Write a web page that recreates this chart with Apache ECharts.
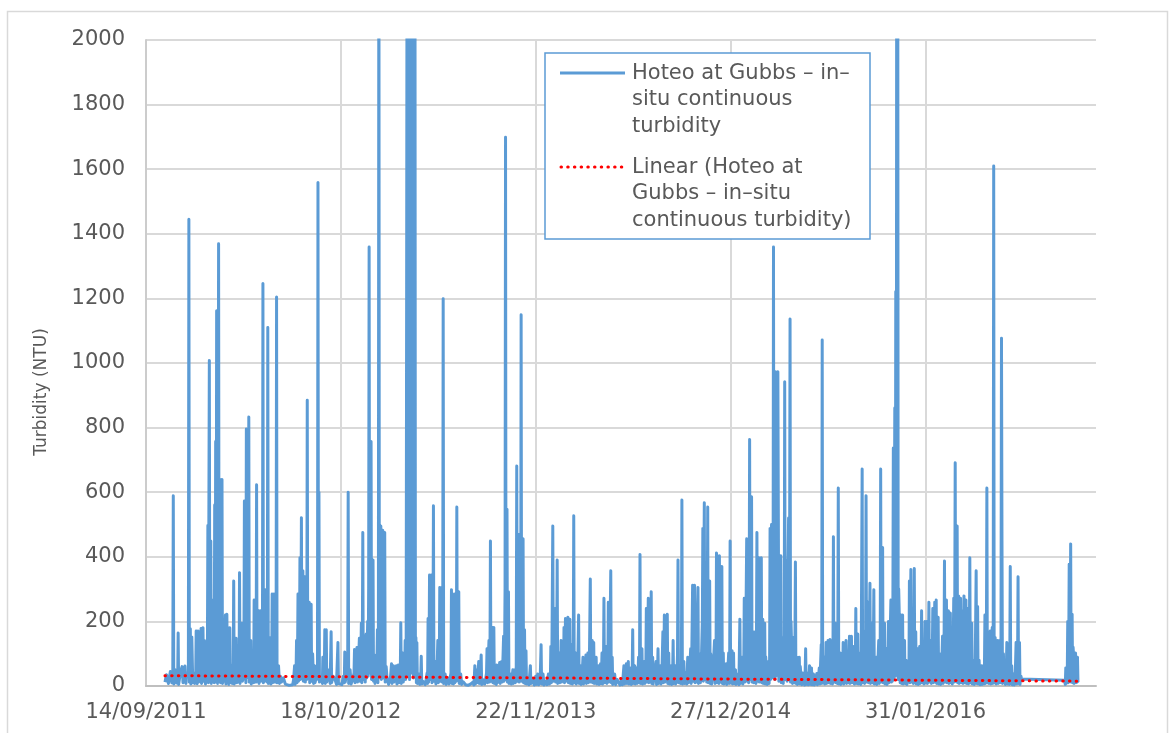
<!DOCTYPE html>
<html>
<head>
<meta charset="utf-8">
<title>Hoteo at Gubbs turbidity</title>
<script src="https://cdn.jsdelivr.net/npm/echarts@6/dist/echarts.min.js"></script>
<style>
  html, body { margin: 0; padding: 0; background: #fff; }
  #chart { width: 1171px; height: 733px; }
</style>
</head>
<body>
<div id="chart"></div>
<script>
// x values are Excel date serials (40800 = 14/09/2011), y values are NTU read off the chart
// values above 2000 are spikes that run off the top of the axis
const turb2011 = [
  [40839, 12], [40842, 35], [40846, 8], [40850, 45], [40853, 10], [40855, 30], [40856, 589], [40857, 6],
  [40860, 50], [40863, 9], [40865, 20], [40866, 164], [40867, 5], [40871, 45], [40874, 60], [40876, 10],
  [40877, 25], [40880, 62], [40882, 8], [40883, 30], [40887, 40], [40888, 1445], [40889, 12], [40891, 177],
  [40892, 6], [40894, 152], [40896, 10], [40898, 40], [40900, 8], [40902, 25], [40903, 170], [40905, 7],
  [40907, 170], [40908, 12]
]
const turb2012 = [
  [40911, 30], [40913, 178], [40914, 8], [40917, 180], [40918, 15], [40920, 141], [40922, 6], [40924, 40],
  [40926, 80], [40927, 497], [40928, 10], [40930, 1008], [40931, 20], [40933, 449], [40934, 8], [40936, 266],
  [40937, 15], [40939, 150], [40940, 10], [40941, 560], [40942, 30], [40943, 757], [40944, 12], [40945, 1162],
  [40946, 40], [40947, 8], [40948, 420], [40949, 1369], [40950, 25], [40952, 639], [40953, 10], [40954, 180],
  [40956, 639], [40957, 8], [40959, 207], [40960, 15], [40961, 90], [40963, 220], [40964, 6], [40966, 222],
  [40967, 12], [40969, 180], [40970, 5], [40972, 180], [40973, 10], [40975, 65], [40977, 8], [40979, 40],
  [40980, 325], [40981, 6], [40983, 60], [40985, 148], [40986, 10], [40988, 50], [40990, 60], [40991, 12],
  [40992, 351], [40993, 8], [40995, 90], [40997, 194], [40998, 15], [41000, 60], [41001, 100], [41002, 573],
  [41003, 20], [41004, 200], [41005, 10], [41006, 796], [41007, 25], [41009, 120], [41010, 300], [41011, 833],
  [41012, 12], [41014, 40], [41015, 141], [41016, 6], [41018, 60], [41020, 90], [41021, 10], [41022, 266],
  [41023, 30], [41025, 150], [41026, 12], [41027, 623], [41028, 20], [41030, 180], [41031, 233], [41032, 8],
  [41034, 200], [41035, 233], [41036, 15], [41038, 120], [41039, 20], [41040, 1246], [41041, 10], [41043, 200],
  [41044, 15], [41045, 298], [41046, 20], [41048, 240], [41049, 12], [41050, 1110], [41051, 8], [41053, 150],
  [41055, 96], [41056, 6], [41058, 60], [41059, 285], [41060, 10], [41062, 100], [41063, 285], [41064, 12],
  [41066, 80], [41067, 20], [41068, 1204], [41069, 10], [41071, 40], [41072, 63], [41074, 8], [41076, 30],
  [41078, 12], [41082, 25], [41086, 6], [41090, 3], [41094, 2], [41098, 8], [41101, 4], [41103, 20],
  [41105, 63], [41106, 5], [41108, 40], [41109, 141], [41110, 10], [41111, 80], [41112, 285], [41113, 15],
  [41115, 120], [41116, 397], [41117, 20], [41118, 200], [41119, 521], [41120, 30], [41121, 250], [41122, 357],
  [41123, 15], [41125, 300], [41126, 338], [41127, 12], [41129, 150], [41130, 20], [41131, 885], [41132, 25],
  [41134, 200], [41135, 259], [41136, 10], [41138, 200], [41139, 253], [41140, 15], [41142, 100], [41143, 102],
  [41144, 8], [41146, 63], [41147, 10], [41150, 30], [41152, 60], [41153, 1559], [41154, 20], [41155, 600],
  [41156, 12], [41160, 30], [41162, 8], [41163, 89], [41164, 10], [41166, 40], [41167, 174], [41168, 8],
  [41170, 174], [41171, 12], [41174, 30], [41176, 50], [41178, 8], [41180, 168], [41181, 10], [41184, 30],
  [41188, 20], [41191, 5], [41194, 135], [41195, 8], [41198, 10], [41202, 4], [41205, 30], [41207, 10],
  [41208, 105], [41209, 12], [41212, 40], [41214, 60], [41215, 600], [41216, 8], [41219, 50], [41221, 6],
  [41224, 20], [41227, 40], [41228, 113], [41229, 10], [41231, 60], [41233, 119], [41234, 12], [41236, 70],
  [41238, 148], [41239, 15], [41241, 80], [41242, 194], [41243, 10], [41244, 100], [41245, 475], [41246, 20],
  [41248, 140], [41249, 154], [41250, 12], [41251, 120], [41252, 161], [41253, 25], [41255, 200], [41256, 30],
  [41257, 300], [41258, 1359], [41259, 40], [41260, 400], [41262, 757], [41263, 20], [41265, 200], [41266, 390],
  [41267, 15], [41269, 96], [41270, 8], [41272, 40]
]
const turb2013 = [
  [41274, 60], [41275, 174], [41276, 10], [41277, 90], [41278, 2600], [41279, 30], [41280, 300], [41282, 495],
  [41283, 20], [41284, 200], [41286, 482], [41287, 25], [41289, 250], [41290, 475], [41291, 12], [41293, 60],
  [41295, 20], [41298, 5], [41302, 30], [41304, 69], [41305, 8], [41308, 63], [41309, 12], [41311, 30],
  [41314, 63], [41315, 6], [41318, 65], [41319, 10], [41321, 30], [41322, 40], [41323, 196], [41324, 8],
  [41326, 60], [41327, 102], [41328, 12], [41331, 40], [41332, 141], [41333, 20], [41334, 80], [41335, 1234],
  [41336, 2600], [41337, 30], [41338, 2600], [41339, 900], [41340, 2600], [41341, 20], [41342, 2600], [41343, 1400],
  [41344, 2600], [41345, 40], [41346, 2600], [41347, 700], [41348, 2600], [41349, 25], [41350, 2600], [41351, 1100],
  [41352, 2600], [41353, 30], [41354, 150], [41355, 10], [41356, 135], [41357, 8], [41360, 37], [41362, 5],
  [41364, 30], [41365, 92], [41366, 6], [41368, 15], [41370, 20], [41373, 4], [41375, 20], [41377, 40],
  [41378, 8], [41379, 209], [41380, 12], [41381, 100], [41382, 344], [41383, 20], [41385, 150], [41386, 344],
  [41387, 10], [41389, 100], [41390, 558], [41391, 15], [41393, 50], [41394, 76], [41395, 6], [41397, 30],
  [41399, 141], [41400, 10], [41402, 60], [41403, 305], [41404, 15], [41406, 150], [41407, 305], [41408, 12],
  [41409, 100], [41410, 1199], [41411, 8], [41413, 30], [41414, 37], [41416, 5], [41420, 25], [41422, 6],
  [41424, 12], [41426, 40], [41427, 298], [41428, 8], [41430, 50], [41431, 6], [41432, 60], [41433, 285],
  [41434, 10], [41436, 100], [41437, 15], [41438, 554], [41439, 20], [41441, 200], [41442, 292], [41443, 8],
  [41446, 37], [41448, 5], [41451, 13], [41456, 4], [41461, 2], [41466, 6], [41471, 12], [41473, 3],
  [41474, 30], [41475, 63], [41476, 6], [41478, 50], [41479, 10], [41481, 30], [41483, 76], [41484, 8],
  [41486, 30], [41488, 96], [41489, 5], [41491, 20], [41493, 25], [41495, 6], [41497, 20], [41499, 40],
  [41500, 115], [41501, 10], [41502, 60], [41504, 141], [41505, 12], [41506, 70], [41507, 449], [41508, 15],
  [41510, 100], [41511, 181], [41512, 10], [41513, 110], [41514, 181], [41515, 8], [41518, 25], [41519, 5],
  [41520, 65], [41521, 10], [41524, 40], [41526, 73], [41527, 8], [41529, 50], [41530, 76], [41531, 12],
  [41533, 100], [41534, 154], [41535, 15], [41536, 100], [41537, 300], [41538, 1699], [41539, 20], [41540, 400],
  [41541, 547], [41542, 12], [41543, 200], [41544, 292], [41545, 8], [41548, 37], [41550, 6], [41553, 50],
  [41554, 8], [41556, 30], [41557, 50], [41558, 10], [41560, 60], [41561, 681], [41562, 15], [41564, 200],
  [41565, 469], [41566, 12], [41568, 150], [41569, 20], [41570, 1149], [41571, 15], [41573, 200], [41574, 456],
  [41575, 10], [41576, 100], [41577, 174], [41578, 8], [41579, 60], [41580, 109], [41581, 6], [41584, 20],
  [41586, 4], [41589, 63], [41590, 8], [41592, 25], [41594, 20], [41597, 3], [41600, 30], [41602, 5],
  [41604, 37], [41606, 4], [41609, 15], [41611, 128], [41612, 6], [41615, 37], [41617, 3], [41620, 15],
  [41623, 4], [41626, 37], [41628, 6], [41630, 20], [41631, 122], [41632, 10], [41633, 60], [41635, 495],
  [41636, 15], [41638, 150]
]
const turb2014 = [
  [41640, 240], [41641, 12], [41643, 100], [41644, 390], [41645, 8], [41647, 80], [41648, 102], [41649, 10],
  [41651, 50], [41652, 141], [41653, 12], [41655, 70], [41657, 20], [41658, 181], [41659, 10], [41660, 100],
  [41661, 209], [41662, 15], [41664, 120], [41666, 213], [41667, 10], [41669, 110], [41670, 207], [41671, 8],
  [41673, 80], [41674, 128], [41675, 6], [41677, 60], [41678, 527], [41679, 10], [41681, 50], [41682, 102],
  [41683, 6], [41686, 40], [41688, 220], [41689, 8], [41691, 50], [41692, 63], [41693, 5], [41695, 30],
  [41697, 89], [41698, 6], [41701, 30], [41703, 96], [41704, 8], [41706, 40], [41707, 102], [41708, 10],
  [41710, 60], [41712, 331], [41713, 12], [41715, 80], [41716, 141], [41717, 10], [41718, 90], [41719, 135],
  [41720, 8], [41722, 50], [41724, 89], [41725, 6], [41727, 40], [41729, 63], [41730, 5], [41732, 30],
  [41733, 69], [41734, 8], [41735, 40], [41736, 102], [41737, 6], [41739, 50], [41740, 272], [41741, 10],
  [41743, 60], [41745, 122], [41746, 8], [41748, 50], [41749, 259], [41750, 12], [41752, 100], [41754, 357],
  [41755, 10], [41756, 60], [41757, 89], [41758, 5], [41760, 30], [41762, 37], [41764, 4], [41767, 20],
  [41770, 25], [41773, 3], [41776, 20], [41778, 4], [41781, 63], [41782, 6], [41784, 30], [41786, 69],
  [41787, 8], [41789, 40], [41790, 76], [41791, 6], [41793, 40], [41795, 56], [41796, 5], [41798, 40],
  [41799, 174], [41800, 8], [41801, 40], [41803, 63], [41804, 6], [41806, 30], [41807, 56], [41808, 8],
  [41810, 40], [41811, 89], [41812, 10], [41813, 60], [41814, 407], [41815, 8], [41817, 60], [41818, 115],
  [41819, 6], [41821, 50], [41823, 76], [41824, 8], [41826, 40], [41827, 240], [41828, 12], [41830, 150],
  [41831, 272], [41832, 10], [41835, 120], [41836, 20], [41837, 292], [41838, 8], [41839, 60], [41840, 89],
  [41841, 6], [41844, 40], [41847, 76], [41848, 5], [41850, 40], [41851, 115], [41852, 8], [41854, 50],
  [41856, 63], [41857, 6], [41859, 40], [41861, 168], [41862, 10], [41863, 80], [41864, 220], [41865, 12],
  [41868, 100], [41870, 222], [41871, 8], [41872, 80], [41873, 102], [41874, 6], [41876, 40], [41878, 63],
  [41879, 5], [41881, 40], [41882, 141], [41883, 8], [41885, 50], [41886, 63], [41887, 6], [41890, 40],
  [41891, 100], [41892, 390], [41893, 10], [41895, 60], [41896, 63], [41897, 8], [41899, 50], [41900, 576],
  [41901, 6], [41903, 50], [41904, 76], [41905, 8], [41908, 40], [41910, 6], [41912, 89], [41913, 10],
  [41916, 50], [41918, 115], [41919, 8], [41920, 60], [41922, 312], [41923, 15], [41925, 200], [41926, 312],
  [41927, 10], [41928, 150], [41929, 194], [41930, 12], [41931, 150], [41933, 305], [41934, 8], [41936, 100],
  [41937, 102], [41938, 10], [41940, 80], [41942, 200], [41943, 488], [41944, 15], [41945, 300], [41946, 567],
  [41947, 20], [41949, 250], [41950, 325], [41951, 12], [41952, 200], [41953, 554], [41954, 10], [41956, 150],
  [41957, 325], [41958, 8], [41959, 100], [41960, 89], [41961, 6], [41964, 50], [41967, 141], [41968, 8],
  [41970, 60], [41971, 412], [41972, 10], [41974, 100], [41975, 141], [41976, 8], [41977, 403], [41978, 12],
  [41980, 100], [41982, 370], [41983, 8], [41984, 80], [41985, 102], [41986, 6], [41989, 50], [41991, 69],
  [41992, 5], [41994, 40], [41996, 102], [41997, 8], [41998, 60], [41999, 449], [42000, 10], [42002, 60],
  [42003, 109], [42004, 6]
]
const turb2015 = [
  [42006, 102], [42007, 8], [42008, 40], [42010, 50], [42011, 5], [42013, 25], [42015, 37], [42017, 4],
  [42019, 207], [42020, 8], [42022, 40], [42024, 89], [42025, 6], [42027, 50], [42028, 272], [42029, 12],
  [42031, 120], [42033, 456], [42034, 15], [42035, 200], [42036, 285], [42037, 10], [42038, 150], [42039, 763],
  [42040, 20], [42042, 250], [42043, 586], [42044, 12], [42045, 150], [42046, 168], [42047, 10], [42049, 100],
  [42051, 168], [42052, 8], [42053, 120], [42054, 475], [42055, 15], [42057, 200], [42058, 397], [42059, 12],
  [42061, 250], [42063, 397], [42064, 10], [42065, 150], [42066, 207], [42067, 8], [42068, 120], [42070, 194],
  [42071, 6], [42072, 90], [42074, 89], [42075, 5], [42077, 60], [42078, 76], [42079, 8], [42080, 60],
  [42081, 488], [42082, 20], [42083, 400], [42084, 500], [42085, 25], [42086, 450], [42087, 30], [42088, 1359],
  [42089, 40], [42090, 500], [42091, 20], [42092, 973], [42093, 30], [42094, 500], [42096, 40], [42097, 973],
  [42098, 508], [42099, 15], [42100, 300], [42102, 30], [42103, 403], [42104, 10], [42105, 150], [42107, 141],
  [42108, 8], [42109, 100], [42110, 50], [42111, 942], [42112, 20], [42113, 300], [42114, 40], [42115, 390],
  [42116, 15], [42117, 250], [42119, 520], [42120, 20], [42121, 300], [42122, 1136], [42123, 12], [42124, 200],
  [42126, 194], [42127, 8], [42128, 150], [42130, 141], [42131, 10], [42132, 120], [42133, 384], [42134, 8],
  [42135, 80], [42136, 89], [42137, 5], [42139, 60], [42141, 89], [42142, 6], [42143, 60], [42145, 63],
  [42146, 4], [42148, 40], [42150, 30], [42152, 3], [42153, 40], [42154, 115], [42155, 5], [42157, 40],
  [42158, 37], [42159, 4], [42161, 25], [42162, 63], [42163, 5], [42165, 35], [42166, 56], [42167, 4],
  [42169, 30], [42170, 37], [42172, 3], [42174, 20], [42177, 39], [42178, 4], [42180, 20], [42182, 56],
  [42183, 6], [42184, 40], [42186, 128], [42187, 8], [42188, 1071], [42189, 10], [42190, 60], [42192, 89],
  [42193, 6], [42195, 50], [42196, 135], [42197, 8], [42199, 70], [42200, 141], [42201, 10], [42203, 80],
  [42204, 144], [42205, 8], [42206, 70], [42208, 102], [42209, 6], [42210, 60], [42211, 462], [42212, 12],
  [42214, 150], [42215, 194], [42216, 10], [42217, 150], [42218, 168], [42219, 8], [42220, 100], [42221, 613],
  [42222, 6], [42223, 80], [42225, 102], [42226, 5], [42228, 50], [42230, 20], [42231, 135], [42232, 6],
  [42234, 60], [42237, 141], [42238, 8], [42240, 70], [42242, 10], [42244, 154], [42245, 8], [42247, 80],
  [42248, 154], [42249, 10], [42251, 90], [42253, 122], [42254, 6], [42256, 70], [42257, 240], [42258, 8],
  [42259, 90], [42261, 161], [42262, 6], [42264, 80], [42266, 102], [42267, 5], [42268, 60], [42270, 672],
  [42271, 10], [42273, 150], [42274, 168], [42275, 8], [42277, 120], [42278, 589], [42279, 12], [42280, 200],
  [42282, 259], [42283, 10], [42285, 150], [42286, 318], [42287, 8], [42288, 150], [42290, 194], [42291, 10],
  [42293, 120], [42294, 298], [42295, 6], [42297, 80], [42299, 89], [42300, 5], [42302, 60], [42304, 141],
  [42305, 8], [42307, 80], [42308, 672], [42309, 12], [42311, 200], [42312, 429], [42313, 10], [42315, 150],
  [42316, 194], [42317, 6], [42319, 80], [42320, 115], [42321, 5], [42323, 60], [42324, 200], [42325, 10],
  [42327, 120], [42329, 266], [42330, 12], [42331, 226], [42332, 15], [42333, 200], [42334, 737], [42335, 20],
  [42336, 400], [42337, 861], [42338, 30], [42339, 1221], [42340, 40], [42341, 2600], [42342, 1400], [42343, 2600],
  [42344, 20], [42345, 300], [42347, 168], [42348, 10], [42349, 120], [42350, 220], [42351, 8], [42352, 150],
  [42353, 220], [42354, 6], [42356, 100], [42357, 141], [42358, 8], [42360, 80], [42361, 63], [42362, 5],
  [42364, 40], [42366, 20], [42367, 325], [42368, 10], [42369, 200]
]
const turb2016 = [
  [42370, 361], [42371, 12], [42373, 180], [42374, 194], [42375, 8], [42376, 100], [42377, 364], [42378, 10],
  [42379, 120], [42380, 168], [42381, 6], [42383, 80], [42384, 115], [42385, 5], [42387, 60], [42388, 122],
  [42389, 8], [42391, 70], [42392, 233], [42393, 10], [42395, 80], [42396, 115], [42397, 6], [42398, 60],
  [42399, 200], [42400, 10], [42402, 120], [42403, 200], [42404, 8], [42406, 100], [42407, 259], [42408, 12],
  [42410, 130], [42411, 141], [42412, 8], [42414, 90], [42415, 240], [42416, 10], [42418, 150], [42419, 259],
  [42420, 12], [42421, 150], [42422, 266], [42423, 8], [42425, 120], [42426, 213], [42427, 6], [42429, 100],
  [42430, 63], [42431, 5], [42433, 40], [42435, 154], [42436, 8], [42438, 90], [42439, 387], [42440, 12],
  [42442, 150], [42443, 266], [42444, 10], [42446, 150], [42447, 233], [42448, 8], [42450, 130], [42451, 226],
  [42452, 10], [42453, 150], [42454, 181], [42455, 6], [42457, 130], [42458, 272], [42459, 12], [42460, 200],
  [42461, 691], [42462, 15], [42464, 300], [42465, 495], [42466, 10], [42467, 250], [42468, 279], [42469, 8],
  [42471, 200], [42472, 272], [42473, 10], [42475, 180], [42476, 233], [42477, 8], [42478, 150], [42479, 279],
  [42480, 10], [42482, 180], [42483, 266], [42484, 8], [42486, 160], [42487, 240], [42488, 6], [42490, 120],
  [42491, 397], [42492, 10], [42494, 150], [42495, 194], [42496, 6], [42498, 80], [42499, 76], [42500, 5],
  [42502, 50], [42504, 357], [42505, 8], [42506, 150], [42507, 246], [42508, 6], [42510, 80], [42511, 76],
  [42512, 4], [42514, 50], [42515, 63], [42516, 5], [42518, 40], [42519, 63], [42520, 6], [42521, 50],
  [42522, 220], [42523, 8], [42525, 100], [42526, 613], [42527, 10], [42528, 150], [42529, 168], [42530, 8],
  [42532, 120], [42533, 170], [42534, 6], [42536, 120], [42537, 181], [42538, 8], [42539, 100], [42540, 1610],
  [42541, 10], [42543, 150], [42544, 154], [42545, 6], [42547, 100], [42548, 141], [42549, 8], [42551, 100],
  [42552, 141], [42553, 10], [42555, 150], [42556, 1077], [42557, 450], [42558, 8], [42560, 100], [42561, 20],
  [42563, 63], [42564, 5], [42566, 50], [42567, 135], [42568, 6], [42570, 60], [42571, 102], [42572, 5],
  [42573, 60], [42574, 370], [42575, 8], [42577, 63], [42578, 4], [42580, 30], [42581, 37], [42582, 3],
  [42584, 20], [42586, 135], [42587, 6], [42589, 60], [42590, 338], [42591, 8], [42592, 80], [42593, 135],
  [42594, 5], [42596, 30], [42597, 22], [42685, 18], [42687, 5], [42688, 56], [42689, 8], [42691, 30],
  [42692, 200], [42693, 10], [42694, 100], [42695, 377], [42696, 15], [42697, 150], [42698, 440], [42699, 12],
  [42700, 200], [42701, 222], [42702, 10], [42703, 120], [42704, 96], [42705, 8], [42707, 60], [42708, 102],
  [42709, 10], [42711, 70], [42712, 89], [42713, 12], [42714, 10]
]
// end points of the linear trend line
const trendLine = [[40839, 32], [42714, 15]]

// axis settings
const xMin = 40800
const xMax = 42750
const xStep = 400
const yMax = 2000
const yStep = 200

const seriesName = 'Hoteo at Gubbs – in–situ continuous turbidity'
const font = '"DejaVu Sans", sans-serif'

function serialToLabel(serial) {
  const d = new Date(Date.UTC(1899, 11, 30) + serial * 86400000)
  const dd = String(d.getUTCDate()).padStart(2, '0')
  const mm = String(d.getUTCMonth() + 1).padStart(2, '0')
  return dd + '/' + mm + '/' + d.getUTCFullYear()
}

const turbidity = [].concat(turb2011, turb2012, turb2013, turb2014, turb2015, turb2016)

const chart = echarts.init(document.getElementById('chart'), null, { renderer: 'canvas' })

chart.setOption({
  animation: false,
  backgroundColor: '#ffffff',
  grid: {
    left: 146,
    right: 75,
    top: 40,
    bottom: 47
  },
  xAxis: {
    type: 'value',
    min: xMin,
    max: xMax,
    interval: xStep,
    axisLine: { lineStyle: { color: '#bfbfbf', width: 2 } },
    axisTick: { show: false },
    axisLabel: {
      color: '#595959',
      fontFamily: font,
      fontSize: 21,
      margin: 16,
      showMaxLabel: false,
      formatter: (v) => ((v - xMin) % xStep === 0 ? serialToLabel(v) : '')
    },
    splitLine: {
      show: true,
      showMaxLine: false,
      lineStyle: { color: '#d9d9d9', width: 2 }
    }
  },
  yAxis: {
    type: 'value',
    min: 0,
    max: yMax,
    interval: yStep,
    axisLine: { show: true, lineStyle: { color: '#cccccc', width: 2 } },
    axisTick: { show: false },
    axisLabel: {
      color: '#595959',
      fontFamily: font,
      fontSize: 21,
      margin: 21,
      formatter: (v) => String(v)
    },
    splitLine: { lineStyle: { color: '#d9d9d9', width: 2 } }
  },
  series: [
    {
      name: seriesName,
      type: 'line',
      data: turbidity,
      showSymbol: false,
      symbol: 'none',
      clip: true,
      lineStyle: { color: '#5b9bd5', width: 3, join: 'round' }
    },
    {
      name: 'Linear (' + seriesName + ')',
      type: 'line',
      data: trendLine,
      showSymbol: false,
      symbol: 'none',
      z: 3,
      lineStyle: { color: '#ff0000', width: 3, type: [0.5, 6.2], cap: 'round' }
    }
  ],
  graphic: [
    // outer chart border
    {
      type: 'rect',
      shape: { x: 7.5, y: 11.5, width: 1160, height: 740 },
      style: { fill: 'none', stroke: '#d9d9d9', lineWidth: 1.5 },
      silent: true,
      z: -10
    },
    // y axis title
    {
      type: 'text',
      x: 42,
      y: 392,
      rotation: Math.PI / 2,
      style: {
        text: 'Turbidity (NTU)',
        font: '17px ' + font,
        fill: '#595959',
        textAlign: 'center',
        textVerticalAlign: 'middle'
      }
    },
    // legend box
    {
      type: 'rect',
      shape: { x: 545, y: 53, width: 325, height: 186 },
      style: { fill: '#ffffff', stroke: '#5b9bd5', lineWidth: 1.5 },
      z: 100
    },
    {
      type: 'line',
      shape: { x1: 560, y1: 73, x2: 625, y2: 73 },
      style: { stroke: '#5b9bd5', lineWidth: 3 },
      z: 101
    },
    {
      type: 'text',
      x: 632,
      y: 60,
      style: {
        text: 'Hoteo at Gubbs – in–\nsitu continuous\nturbidity',
        font: '21px ' + font,
        lineHeight: 26.5,
        fill: '#595959',
        textVerticalAlign: 'top'
      },
      z: 101
    },
    {
      type: 'line',
      shape: { x1: 561, y1: 167, x2: 625, y2: 167 },
      style: { stroke: '#ff0000', lineWidth: 3, lineDash: [0.5, 6.2], lineCap: 'round' },
      z: 101
    },
    {
      type: 'text',
      x: 632,
      y: 154,
      style: {
        text: 'Linear (Hoteo at\nGubbs – in–situ\ncontinuous turbidity)',
        font: '21px ' + font,
        lineHeight: 26.5,
        fill: '#595959',
        textVerticalAlign: 'top'
      },
      z: 101
    }
  ]
})
</script>
</body>
</html>
